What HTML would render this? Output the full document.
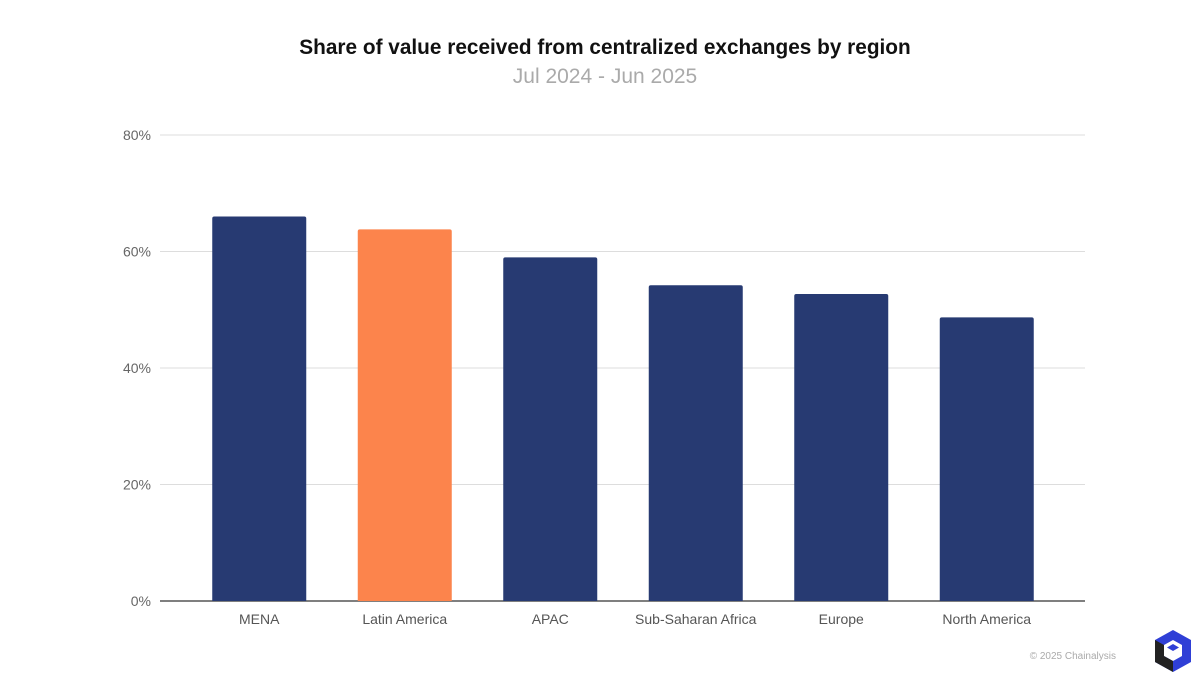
<!DOCTYPE html>
<html><head><meta charset="utf-8"><style>
body{margin:0;background:#fff;width:1200px;height:675px;overflow:hidden;font-family:"Liberation Sans",sans-serif}
</style></head><body>
<svg id="chart" width="1200" height="675">
<text x="605" y="54" text-anchor="middle" font-size="20.8" font-weight="bold" fill="#111">Share of value received from centralized exchanges by region</text>
<text x="605" y="83" text-anchor="middle" font-size="21" fill="#aaa">Jul 2024 - Jun 2025</text>
<g id="grid"></g><g id="bars"></g><g id="xlabels"></g>
<text x="1116" y="659" text-anchor="end" font-size="10" fill="#aaa">© 2025 Chainalysis</text>
<g transform="translate(1153,630)">
<polygon points="20,0 38,10 38,32 20,42 2,32 2,10" fill="#2f3fd6"/>
<polygon points="20,10 29,15 29,26 20,31 11,26 11,15" fill="#fff"/>
<polygon points="2,10 11,15 11,26 20,31 20,42 2,32" fill="#222"/>
<polygon points="20,14 26,17.5 20,21 14,17.5" fill="#2f3fd6"/>
</g>
</svg>
<script>
const categories=["MENA","Latin America","APAC","Sub-Saharan Africa","Europe","North America"];
const values=[66,63.8,59,54.2,52.7,48.7];
const ticks=[0,20,40,60,80];
const tickLabels=["0%","20%","40%","60%","80%"];
const ns="http://www.w3.org/2000/svg";
const y0=601,y80=135,left=160,right=1085,bandStart=186.5,band=145.5,bw=94;
const y=v=>y0-(v/80)*(y0-y80);
const x=i=>bandStart+band*i+band/2;
function mk(t,a,p){const e=document.createElementNS(ns,t);for(const k in a)e.setAttribute(k,a[k]);p.appendChild(e);return e;}
const g=document.getElementById('grid'),b=document.getElementById('bars'),xl=document.getElementById('xlabels');
ticks.forEach((t,i)=>{
 const l=mk('line',{x1:left,x2:right,y1:y(t),y2:y(t),stroke:t===0?'#333':'#ddd','stroke-width':t===0?1.2:1},g);
 
 
 const tx=mk('text',{x:151,y:y(t)+5,'text-anchor':'end','font-size':14,fill:'#666'},g);
 tx.textContent=tickLabels[i];
 
 
});
categories.forEach((c,i)=>{
 const r=mk('path',{d:`M${x(i)-bw/2},${y0} V${y(values[i])+2} q0,-2 2,-2 H${x(i)+bw/2-2} q2,0 2,2 V${y0} Z`,fill:i===1?'#fc844c':'#273a72'},b);
 
 
 const t=mk('text',{x:x(i),y:624,'text-anchor':'middle','font-size':14,fill:'#555'},xl);
 t.textContent=c;
 
 
});
</script>
</body></html>
